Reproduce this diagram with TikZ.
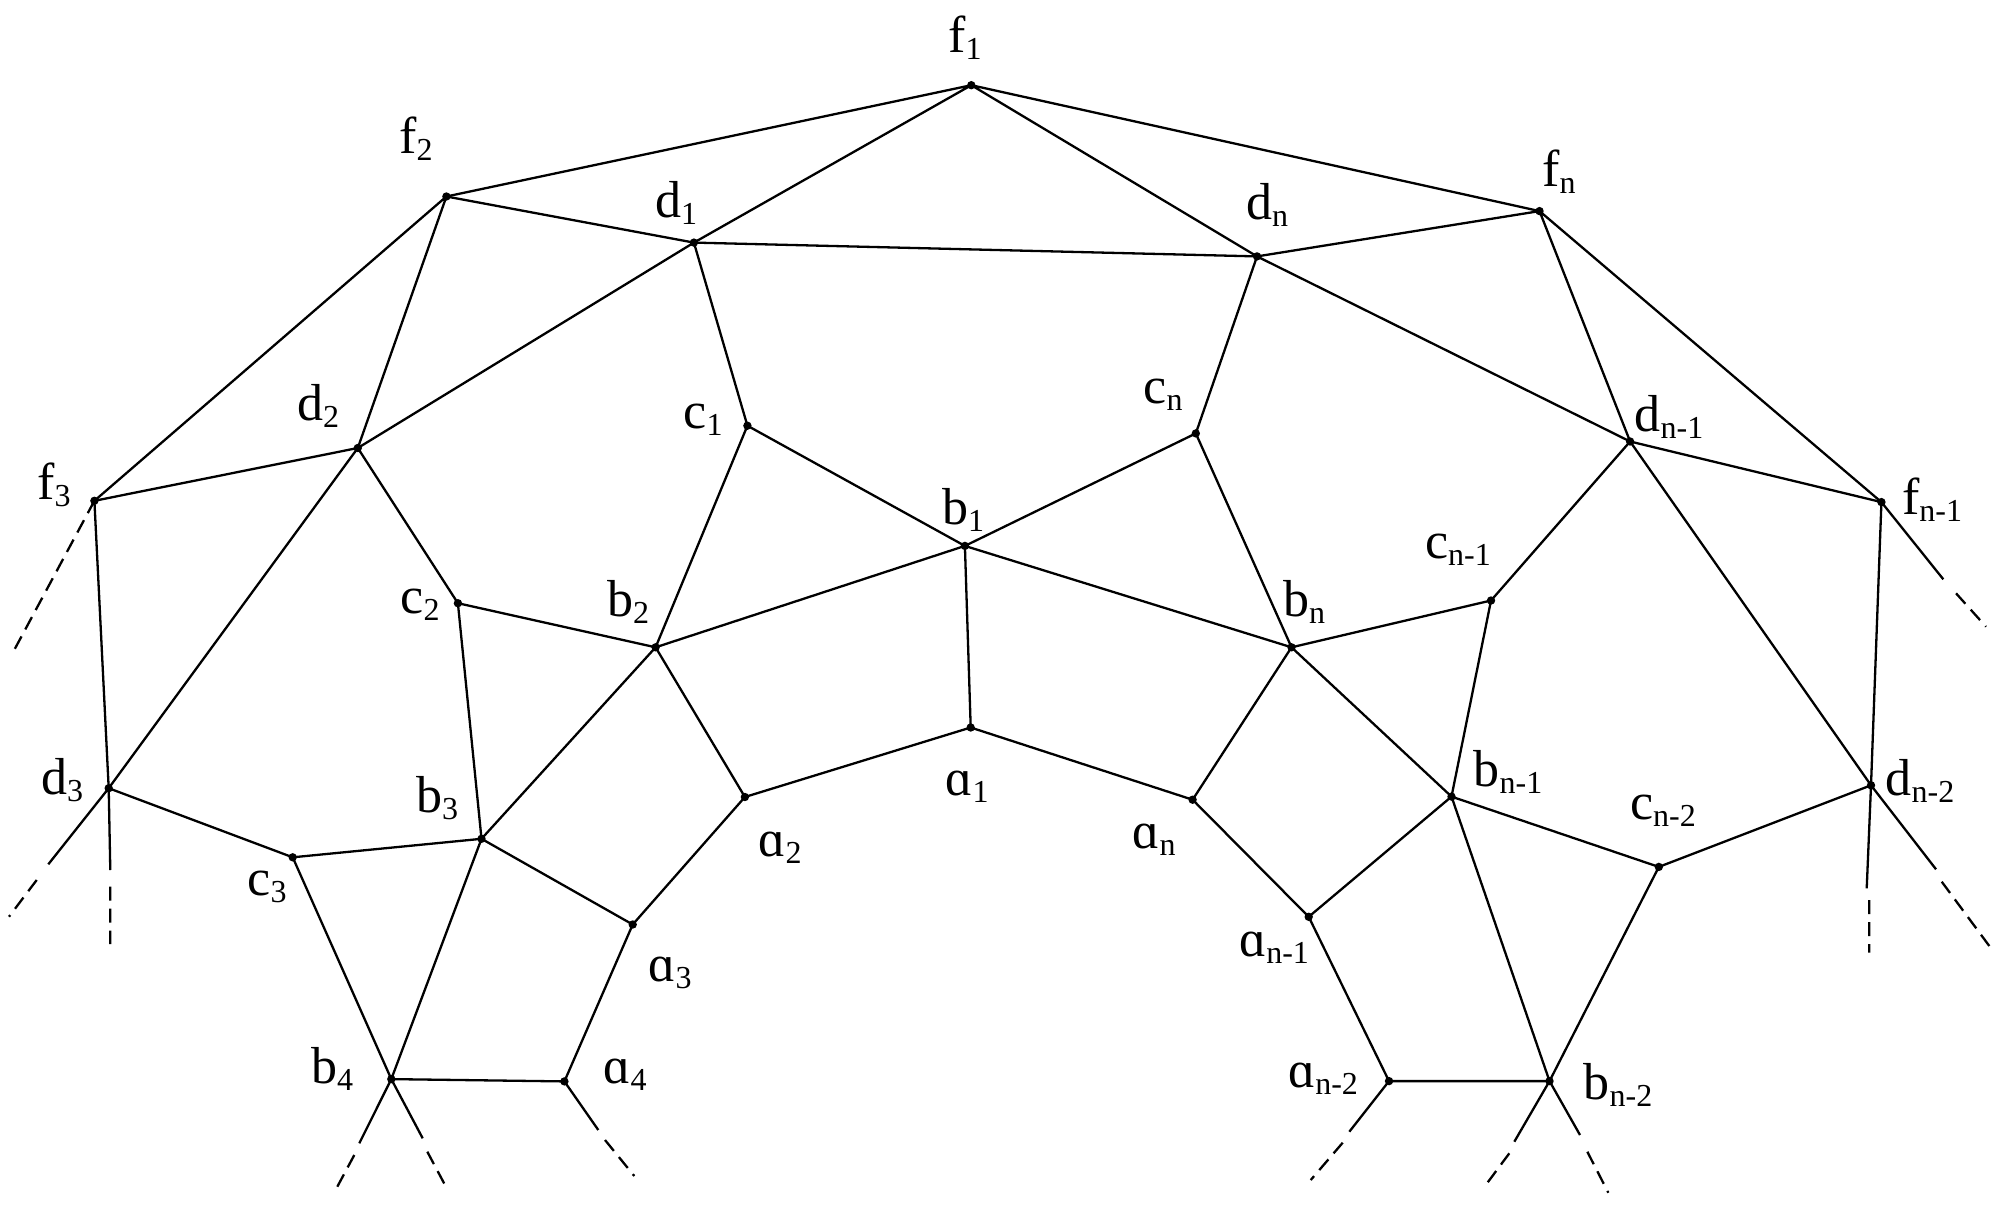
\documentclass[tikz,border=0pt]{standalone}
\usepackage{fontspec}
\setmainfont{Liberation Serif}
\newcommand\lb[2]{#1\raisebox{-3.5pt}{\fontsize{16}{19}\selectfont #2}}
\begin{document}
\begin{tikzpicture}[x=0.5pt,y=-0.5pt,
  dot/.style={circle,fill,inner sep=0pt,minimum size=4.2pt},
  edge/.style={line width=1.15pt},
  ext/.style={line width=1.15pt,dash pattern=on 7pt off 4pt},
  lab/.style={font=\fontsize{26}{31}\selectfont,inner sep=0pt}]
\useasboundingbox (0,0) rectangle (2000,1204);
% vertices
\node[dot] (f1) at (971.3,85.2) {};
\node[dot] (f2) at (446.4,196.5) {};
\node[dot] (d1) at (693.9,242.6) {};
\node[dot] (d2) at (357.8,448.0) {};
\node[dot] (c1) at (747.4,425.7) {};
\node[dot] (f3) at (94.4,500.8) {};
\node[dot] (b1) at (964.9,545.9) {};
\node[dot] (dn) at (1257.0,256.4) {};
\node[dot] (fn) at (1539.5,211.1) {};
\node[dot] (cn) at (1195.8,433.4) {};
\node[dot] (dn1) at (1630.1,441.5) {};
\node[dot] (fn1) at (1881.4,502.1) {};
\node[dot] (cn1) at (1491.0,600.5) {};
\node[dot] (c2) at (457.9,603.2) {};
\node[dot] (b2) at (655.6,647.3) {};
\node[dot] (a1) at (970.7,727.5) {};
\node[dot] (d3) at (108.7,788.2) {};
\node[dot] (b3) at (481.5,838.8) {};
\node[dot] (a2) at (744.9,797.0) {};
\node[dot] (c3) at (292.7,857.3) {};
\node[dot] (a3) at (632.7,924.5) {};
\node[dot] (b4) at (391.3,1079.1) {};
\node[dot] (a4) at (564.4,1081.4) {};
\node[dot] (bn) at (1291.5,647.3) {};
\node[dot] (an) at (1192.6,799.7) {};
\node[dot] (bn1) at (1451.5,796.6) {};
\node[dot] (dn2) at (1871.0,785.3) {};
\node[dot] (cn2) at (1658.8,866.9) {};
\node[dot] (an1) at (1308.7,916.8) {};
\node[dot] (an2) at (1389.0,1081.1) {};
\node[dot] (bn2) at (1549.5,1081.1) {};
% free ends
\coordinate (f3x) at (13.3,651.7);
\coordinate (d3s) at (48.3,864.3);
\coordinate (d3t) at (36.7,880);
\coordinate (d3u) at (9,916.7);
\coordinate (d3v) at (110.3,870);
\coordinate (d3w) at (110.3,886.7);
\coordinate (d3y) at (110.3,944);
\coordinate (b4s) at (359.3,1143.3);
\coordinate (b4t) at (354.3,1155);
\coordinate (b4u) at (337.3,1186.7);
\coordinate (b4v) at (422.7,1138.3);
\coordinate (b4w) at (427.3,1151.7);
\coordinate (b4y) at (447.3,1189.3);
\coordinate (a4s) at (598.3,1130);
\coordinate (a4t) at (605,1140);
\coordinate (a4u) at (634.3,1176);
\coordinate (an2s) at (1349.3,1131.7);
\coordinate (an2t) at (1342.7,1142.7);
\coordinate (an2u) at (1310.7,1180);
\coordinate (bn2s) at (1514.3,1141.7);
\coordinate (bn2t) at (1509.3,1153.3);
\coordinate (bn2u) at (1484,1187.3);
\coordinate (bn2v) at (1580,1135);
\coordinate (bn2w) at (1587.3,1151.7);
\coordinate (bn2y) at (1608.3,1192.7);
\coordinate (dn2s) at (1866.7,888.3);
\coordinate (dn2t) at (1869.3,900);
\coordinate (dn2u) at (1869.3,952.7);
\coordinate (dn2v) at (1936,869.3);
\coordinate (dn2w) at (1941.7,881.7);
\coordinate (dn2y) at (1989.3,946);
\coordinate (fn1s) at (1943.3,579.3);
\coordinate (fn1t) at (1956,593.3);
\coordinate (fn1u) at (1986,626.7);
% edges
\draw[edge] (f1.center) -- (f2.center) (f1.center) -- (d1.center) (f1.center) -- (dn.center) (f1.center) -- (fn.center);
\draw[edge] (f2.center) -- (d1.center) (f2.center) -- (d2.center) (f2.center) -- (f3.center);
\draw[edge] (d1.center) -- (dn.center) (d1.center) -- (c1.center) (d1.center) -- (d2.center);
\draw[edge] (dn.center) -- (fn.center) (dn.center) -- (cn.center) (dn.center) -- (dn1.center);
\draw[edge] (fn.center) -- (dn1.center) (fn.center) -- (fn1.center);
\draw[edge] (d2.center) -- (f3.center) (d2.center) -- (c2.center) (d2.center) -- (d3.center);
\draw[edge] (c1.center) -- (b1.center) (c1.center) -- (b2.center);
\draw[edge] (cn.center) -- (b1.center) (cn.center) -- (bn.center);
\draw[edge] (dn1.center) -- (fn1.center) (dn1.center) -- (cn1.center) (dn1.center) -- (dn2.center);
\draw[edge] (f3.center) -- (d3.center) (fn1.center) -- (dn2.center);
\draw[edge] (b1.center) -- (b2.center) (b1.center) -- (bn.center) (b1.center) -- (a1.center);
\draw[edge] (c2.center) -- (b2.center) (c2.center) -- (b3.center);
\draw[edge] (b2.center) -- (a2.center) (b2.center) -- (b3.center);
\draw[edge] (bn.center) -- (cn1.center) (bn.center) -- (an.center) (bn.center) -- (bn1.center);
\draw[edge] (cn1.center) -- (bn1.center);
\draw[edge] (a1.center) -- (a2.center) (a1.center) -- (an.center);
\draw[edge] (d3.center) -- (c3.center);
\draw[edge] (b3.center) -- (c3.center) (b3.center) -- (a3.center) (b3.center) -- (b4.center);
\draw[edge] (a2.center) -- (a3.center) (an.center) -- (an1.center);
\draw[edge] (bn1.center) -- (an1.center) (bn1.center) -- (cn2.center) (bn1.center) -- (bn2.center);
\draw[edge] (cn2.center) -- (dn2.center) (cn2.center) -- (bn2.center);
\draw[edge] (c3.center) -- (b4.center) (a3.center) -- (a4.center) (an1.center) -- (an2.center);
\draw[edge] (b4.center) -- (a4.center) (an2.center) -- (bn2.center);
% extensions
\draw[ext] (f3.center) -- (f3x);
\draw[edge] (d3.center) -- (d3s) (d3.center) -- (d3v);
\draw[ext] (d3t) -- (d3u) (d3w) -- (d3y);
\draw[edge] (b4.center) -- (b4s) (b4.center) -- (b4v);
\draw[ext] (b4t) -- (b4u) (b4w) -- (b4y);
\draw[edge] (a4.center) -- (a4s);
\draw[ext] (a4t) -- (a4u);
\draw[edge] (an2.center) -- (an2s);
\draw[ext] (an2t) -- (an2u);
\draw[edge] (bn2.center) -- (bn2s) (bn2.center) -- (bn2v);
\draw[ext] (bn2t) -- (bn2u) (bn2w) -- (bn2y);
\draw[edge] (dn2.center) -- (dn2s) (dn2.center) -- (dn2v);
\draw[ext] (dn2t) -- (dn2u) (dn2w) -- (dn2y);
\draw[edge] (fn1.center) -- (fn1s);
\draw[ext] (fn1t) -- (fn1u);
% labels
\node[lab] (Lf1) at (965,38) {\lb{f}{1}};
\node[lab] (Lf2) at (416,139) {\lb{f}{2}};
\node[lab] (Ld1) at (676,203) {\lb{d}{1}};
\node[lab] (Ld2) at (318,406) {\lb{d}{2}};
\node[lab] (Lc1) at (703,420) {\lb{c}{1}};
\node[lab] (Lf3) at (54,485) {\lb{f}{3}};
\node[lab] (Lb1) at (963,510) {\lb{b}{1}};
\node[lab] (Lfn) at (1559,172) {\lb{f}{n}};
\node[lab] (Ldn) at (1267,205) {\lb{d}{n}};
\node[lab] (Lcn) at (1163,395) {\lb{c}{n}};
\node[lab] (Ldn1) at (1669,417) {\lb{d}{n-1}};
\node[lab] (Lfn1) at (1932,500) {\lb{f}{n-1}};
\node[lab] (Lcn1) at (1458,550) {\lb{c}{n-1}};
\node[lab] (Lc2) at (420,605) {\lb{c}{2}};
\node[lab] (Lb2) at (628,602) {\lb{b}{2}};
\node[lab] (Lbn) at (1304,602) {\lb{b}{n}};
\node[lab] (Ld3) at (62,780) {\lb{d}{3}};
\node[lab] (Lb3) at (437,798) {\lb{b}{3}};
\node[lab] (La2) at (780,848) {\lb{ɑ}{2}};
\node[lab] (La1) at (967,787) {\lb{ɑ}{1}};
\node[lab] (Lc3) at (267,887) {\lb{c}{3}};
\node[lab] (La3) at (670,973) {\lb{ɑ}{3}};
\node[lab] (Lb4) at (332,1069) {\lb{b}{4}};
\node[lab] (La4) at (625,1075) {\lb{ɑ}{4}};
\node[lab] (Lbn1) at (1508,772) {\lb{b}{n-1}};
\node[lab] (Ldn2) at (1920,781) {\lb{d}{n-2}};
\node[lab] (Lan) at (1154,840) {\lb{ɑ}{n}};
\node[lab] (Lcn2) at (1663,811) {\lb{c}{n-2}};
\node[lab] (Lan1) at (1274,948) {\lb{ɑ}{n-1}};
\node[lab] (Lan2) at (1323,1079) {\lb{ɑ}{n-2}};
\node[lab] (Lbn2) at (1618,1085) {\lb{b}{n-2}};
\end{tikzpicture}
\end{document}
